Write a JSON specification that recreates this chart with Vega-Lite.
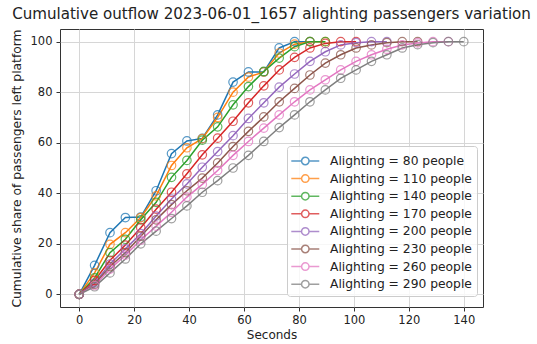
{
  "$schema": "https://vega.github.io/schema/vega-lite/v6.json",
  "width": 423,
  "height": 278,
  "autosize": {"type": "none"},
  "padding": {"left": 60, "top": 29, "right": 54, "bottom": 37},
  "background": "white",
  "title": {"text": "Cumulative outflow 2023-06-01_1657 alighting passengers variation", "fontSize": 15.1, "font": "DejaVu Sans", "fontWeight": "normal", "color": "#222", "anchor": "middle", "offset": 7},
  "config": {"view": {"stroke": "#333", "strokeWidth": 1}, "font": "DejaVu Sans"},
  "data": {"values": [
    {"a": 80, "t": 0, "v": 0}, {"a": 80, "t": 5.6, "v": 11.5}, {"a": 80, "t": 11.2, "v": 24.4}, {"a": 80, "t": 16.8, "v": 30.4}, {"a": 80, "t": 22.4, "v": 30.6}, {"a": 80, "t": 28, "v": 41}, {"a": 80, "t": 33.6, "v": 55.7}, {"a": 80, "t": 39.2, "v": 60.7}, {"a": 80, "t": 44.8, "v": 61.7}, {"a": 80, "t": 50.4, "v": 71}, {"a": 80, "t": 56, "v": 84}, {"a": 80, "t": 61.6, "v": 88}, {"a": 80, "t": 67.2, "v": 88}, {"a": 80, "t": 72.8, "v": 97.5}, {"a": 80, "t": 78.4, "v": 100}, {"a": 80, "t": 84, "v": 100},
    {"a": 110, "t": 0, "v": 0}, {"a": 110, "t": 5.6, "v": 8.5}, {"a": 110, "t": 11.2, "v": 19.8}, {"a": 110, "t": 16.8, "v": 24.4}, {"a": 110, "t": 22.4, "v": 30.4}, {"a": 110, "t": 28, "v": 39}, {"a": 110, "t": 33.6, "v": 51}, {"a": 110, "t": 39.2, "v": 58}, {"a": 110, "t": 44.8, "v": 61.6}, {"a": 110, "t": 50.4, "v": 70}, {"a": 110, "t": 56, "v": 80}, {"a": 110, "t": 61.6, "v": 86}, {"a": 110, "t": 67.2, "v": 88}, {"a": 110, "t": 72.8, "v": 95.5}, {"a": 110, "t": 78.4, "v": 99}, {"a": 110, "t": 84, "v": 100}, {"a": 110, "t": 89.6, "v": 100},
    {"a": 140, "t": 0, "v": 0}, {"a": 140, "t": 5.6, "v": 6.5}, {"a": 140, "t": 11.2, "v": 16.5}, {"a": 140, "t": 16.8, "v": 21.8}, {"a": 140, "t": 22.4, "v": 29.5}, {"a": 140, "t": 28, "v": 36.4}, {"a": 140, "t": 33.6, "v": 46.3}, {"a": 140, "t": 39.2, "v": 53}, {"a": 140, "t": 44.8, "v": 61}, {"a": 140, "t": 50.4, "v": 66.3}, {"a": 140, "t": 56, "v": 75}, {"a": 140, "t": 61.6, "v": 82.2}, {"a": 140, "t": 67.2, "v": 88.2}, {"a": 140, "t": 72.8, "v": 93.5}, {"a": 140, "t": 78.4, "v": 98}, {"a": 140, "t": 84, "v": 100}, {"a": 140, "t": 89.6, "v": 100},
    {"a": 170, "t": 0, "v": 0}, {"a": 170, "t": 5.6, "v": 5.5}, {"a": 170, "t": 11.2, "v": 13.5}, {"a": 170, "t": 16.8, "v": 19.5}, {"a": 170, "t": 22.4, "v": 26.4}, {"a": 170, "t": 28, "v": 33.7}, {"a": 170, "t": 33.6, "v": 40.4}, {"a": 170, "t": 39.2, "v": 47.7}, {"a": 170, "t": 44.8, "v": 55.2}, {"a": 170, "t": 50.4, "v": 61.8}, {"a": 170, "t": 56, "v": 68.5}, {"a": 170, "t": 61.6, "v": 75.8}, {"a": 170, "t": 67.2, "v": 82.5}, {"a": 170, "t": 72.8, "v": 88.8}, {"a": 170, "t": 78.4, "v": 93.8}, {"a": 170, "t": 84, "v": 97.5}, {"a": 170, "t": 89.6, "v": 99.3}, {"a": 170, "t": 95.2, "v": 100}, {"a": 170, "t": 100.8, "v": 100},
    {"a": 200, "t": 0, "v": 0}, {"a": 200, "t": 5.6, "v": 4.5}, {"a": 200, "t": 11.2, "v": 12}, {"a": 200, "t": 16.8, "v": 18}, {"a": 200, "t": 22.4, "v": 24}, {"a": 200, "t": 28, "v": 31}, {"a": 200, "t": 33.6, "v": 37.7}, {"a": 200, "t": 39.2, "v": 43.7}, {"a": 200, "t": 44.8, "v": 50.3}, {"a": 200, "t": 50.4, "v": 56.5}, {"a": 200, "t": 56, "v": 62.8}, {"a": 200, "t": 61.6, "v": 69.6}, {"a": 200, "t": 67.2, "v": 75.8}, {"a": 200, "t": 72.8, "v": 82}, {"a": 200, "t": 78.4, "v": 87.2}, {"a": 200, "t": 84, "v": 92.2}, {"a": 200, "t": 89.6, "v": 96}, {"a": 200, "t": 95.2, "v": 98.7}, {"a": 200, "t": 100.8, "v": 99.6}, {"a": 200, "t": 106.4, "v": 100}, {"a": 200, "t": 112, "v": 100},
    {"a": 230, "t": 0, "v": 0}, {"a": 230, "t": 5.6, "v": 4}, {"a": 230, "t": 11.2, "v": 11}, {"a": 230, "t": 16.8, "v": 16.5}, {"a": 230, "t": 22.4, "v": 23}, {"a": 230, "t": 28, "v": 29.5}, {"a": 230, "t": 33.6, "v": 35.5}, {"a": 230, "t": 39.2, "v": 41}, {"a": 230, "t": 44.8, "v": 46}, {"a": 230, "t": 50.4, "v": 52}, {"a": 230, "t": 56, "v": 58.5}, {"a": 230, "t": 61.6, "v": 64.5}, {"a": 230, "t": 67.2, "v": 70.2}, {"a": 230, "t": 72.8, "v": 76.2}, {"a": 230, "t": 78.4, "v": 81.5}, {"a": 230, "t": 84, "v": 86.8}, {"a": 230, "t": 89.6, "v": 91.5}, {"a": 230, "t": 95.2, "v": 94.8}, {"a": 230, "t": 100.8, "v": 97.5}, {"a": 230, "t": 106.4, "v": 98.7}, {"a": 230, "t": 112, "v": 99.6}, {"a": 230, "t": 117.6, "v": 100}, {"a": 230, "t": 123.2, "v": 100},
    {"a": 260, "t": 0, "v": 0}, {"a": 260, "t": 5.6, "v": 3.5}, {"a": 260, "t": 11.2, "v": 10}, {"a": 260, "t": 16.8, "v": 15.5}, {"a": 260, "t": 22.4, "v": 21.5}, {"a": 260, "t": 28, "v": 27}, {"a": 260, "t": 33.6, "v": 32.5}, {"a": 260, "t": 39.2, "v": 38.5}, {"a": 260, "t": 44.8, "v": 43.5}, {"a": 260, "t": 50.4, "v": 49}, {"a": 260, "t": 56, "v": 55}, {"a": 260, "t": 61.6, "v": 60.5}, {"a": 260, "t": 67.2, "v": 65.8}, {"a": 260, "t": 72.8, "v": 71}, {"a": 260, "t": 78.4, "v": 76.2}, {"a": 260, "t": 84, "v": 80.9}, {"a": 260, "t": 89.6, "v": 84.9}, {"a": 260, "t": 95.2, "v": 88.8}, {"a": 260, "t": 100.8, "v": 92.2}, {"a": 260, "t": 106.4, "v": 94.8}, {"a": 260, "t": 112, "v": 97}, {"a": 260, "t": 117.6, "v": 98.7}, {"a": 260, "t": 123.2, "v": 99.5}, {"a": 260, "t": 128.8, "v": 100}, {"a": 260, "t": 134.4, "v": 100},
    {"a": 290, "t": 0, "v": 0}, {"a": 290, "t": 5.6, "v": 3}, {"a": 290, "t": 11.2, "v": 8.5}, {"a": 290, "t": 16.8, "v": 14}, {"a": 290, "t": 22.4, "v": 20}, {"a": 290, "t": 28, "v": 25}, {"a": 290, "t": 33.6, "v": 30}, {"a": 290, "t": 39.2, "v": 35}, {"a": 290, "t": 44.8, "v": 40.4}, {"a": 290, "t": 50.4, "v": 45}, {"a": 290, "t": 56, "v": 50}, {"a": 290, "t": 61.6, "v": 55}, {"a": 290, "t": 67.2, "v": 60.5}, {"a": 290, "t": 72.8, "v": 66}, {"a": 290, "t": 78.4, "v": 71}, {"a": 290, "t": 84, "v": 76.2}, {"a": 290, "t": 89.6, "v": 80.9}, {"a": 290, "t": 95.2, "v": 85.5}, {"a": 290, "t": 100.8, "v": 88.8}, {"a": 290, "t": 106.4, "v": 92.2}, {"a": 290, "t": 112, "v": 94.8}, {"a": 290, "t": 117.6, "v": 97.5}, {"a": 290, "t": 123.2, "v": 98.8}, {"a": 290, "t": 128.8, "v": 99.6}, {"a": 290, "t": 134.4, "v": 100}, {"a": 290, "t": 140, "v": 100}
  ]},
  "encoding": {
    "x": {"field": "t", "type": "quantitative",
      "scale": {"domain": [-7, 147], "nice": false, "zero": false},
      "axis": {"title": "Seconds", "values": [0, 20, 40, 60, 80, 100, 120, 140], "grid": true, "gridColor": "#d6d6d6", "gridWidth": 1, "domain": false, "tickColor": "#333", "tickSize": 4, "labelFontSize": 11.5, "labelColor": "#222", "labelPadding": 3, "titleFontSize": 12, "titleFontWeight": "normal", "titleColor": "#222", "titlePadding": 4}},
    "y": {"field": "v", "type": "quantitative",
      "scale": {"domain": [-5, 105], "nice": false, "zero": false},
      "axis": {"title": "Cumulative share of passengers left platform", "values": [0, 20, 40, 60, 80, 100], "grid": true, "gridColor": "#d6d6d6", "gridWidth": 1, "domain": false, "tickColor": "#333", "tickSize": 4, "labelFontSize": 11.5, "labelColor": "#222", "labelPadding": 4, "titleFontSize": 12.3, "titleFontWeight": "normal", "titleColor": "#222", "titlePadding": 7}},
    "color": {"field": "a", "type": "nominal",
      "scale": {"domain": [80, 110, 140, 170, 200, 230, 260, 290], "range": ["#1f77b4", "#ff7f0e", "#2ca02c", "#d62728", "#9467bd", "#8c564b", "#e377c2", "#7f7f7f"]},
      "legend": {"title": null, "orient": "none", "legendX": 227, "legendY": 117, "labelExpr": "'Alighting = ' + datum.label + ' people'", "labelFontSize": 12.3, "labelColor": "#222", "labelOffset": 18, "symbolType": "M-1.19,0H-0.05M0.78,0H1.92M-0.05,0A0.415,0.415 0 1,1 0.78,0A0.415,0.415 0 1,1 -0.05,0", "symbolSize": 324, "symbolStrokeWidth": 1.5, "symbolFillColor": "transparent", "rowPadding": 0.6, "padding": 5, "fillColor": "rgba(255,255,255,0.8)", "strokeColor": "#cccccc", "cornerRadius": 3}}
  },
  "layer": [
    {"mark": {"type": "line", "strokeWidth": 1.5}},
    {"mark": {"type": "point", "filled": false, "size": 72, "strokeWidth": 1.2, "opacity": 0.75}}
  ]
}
